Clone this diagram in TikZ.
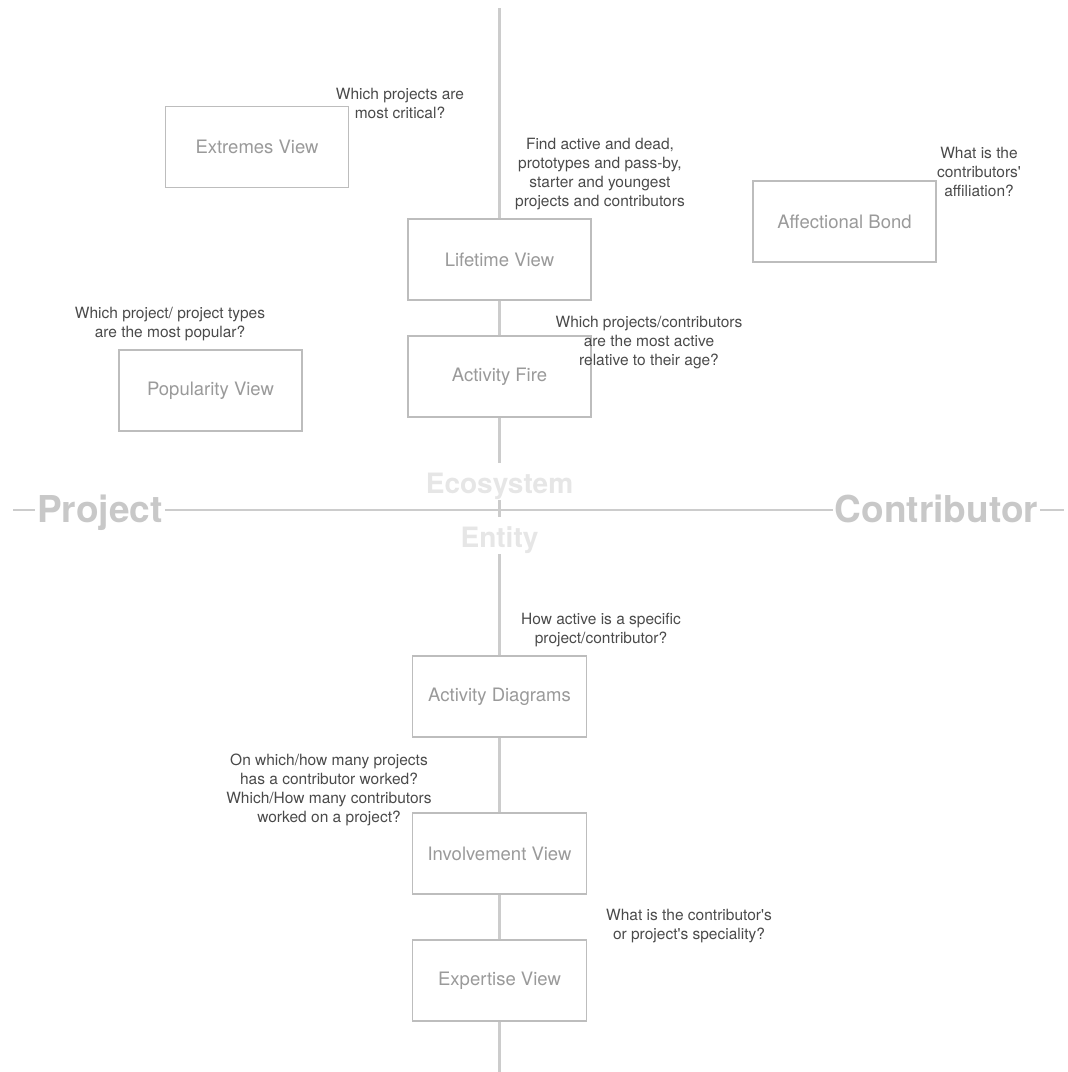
\documentclass[tikz,border=0pt]{standalone}
\usepackage{fontspec}
\setmainfont{TeX Gyre Heros}
\definecolor{axisgray}{HTML}{CCCCCC}
\definecolor{boxgray}{HTML}{BDBDBD}
\definecolor{labelgray}{HTML}{9A9A9A}
\definecolor{qgray}{HTML}{4A4A4A}
\definecolor{dimgray}{HTML}{C8C8C8}
\definecolor{ecogray}{HTML}{E6E6E6}
\begin{document}
\begin{tikzpicture}[x=1pt,y=-1pt,
  axisline/.style={draw=axisgray, line width=3pt},
  haxisline/.style={draw=axisgray, line width=2.8pt},
  viewbox/.style={draw=boxgray, line width=1.5pt, fill=white, text=labelgray,
    font=\fontsize{18.5}{22}\selectfont, minimum width=183pt, minimum height=81pt, inner sep=0pt},
  narrowbox/.style={viewbox, minimum width=174pt},
  question/.style={text=qgray, font=\fontsize{15.5}{19}\selectfont, align=center, inner sep=0pt},
  dimlabel/.style={text=dimgray, font=\bfseries\fontsize{37}{40}\selectfont, fill=white,
    inner xsep=2pt, inner ysep=0pt, anchor=base},
  scopelabel/.style={text=ecogray, font=\bfseries\fontsize{28}{32}\selectfont, fill=white,
    inner sep=0pt, text height=30pt, text depth=7pt, anchor=base}
]
\useasboundingbox (0,0) rectangle (1068,1072);

% axis end points
\coordinate (axtop) at (499.5,8);
\coordinate (axbot) at (499.5,1072);
\coordinate (axleft) at (13,510);
\coordinate (axright) at (1064,510);

% axis labels
\node[dimlabel] (project) at (100,522) {Project};
\node[dimlabel] (contrib) at (936.5,522) {Contributor};
\node[scopelabel] (eco) at (499.5,493) {Ecosystem};
\node[scopelabel] (entity) at (499.5,547) {Entity};

% view boxes
\node[viewbox] (extremes) at (257,147) {Extremes View};
\node[viewbox] (lifetime) at (499.5,259.5) {Lifetime View};
\node[viewbox] (fire) at (499.5,376.5) {Activity Fire};
\node[viewbox] (popularity) at (210.5,390.5) {Popularity View};
\node[viewbox] (bond) at (844.5,221.5) {Affectional Bond};
\node[narrowbox] (actdiag) at (499.5,696.5) {Activity Diagrams};
\node[narrowbox] (involve) at (499.5,853.5) {Involvement View};
\node[narrowbox] (expert) at (499.5,980.5) {Expertise View};

% axes drawn between nodes
\draw[axisline] (axtop) -- (lifetime);
\draw[axisline] (lifetime) -- (fire);
\draw[axisline] (fire) -- (eco);
\draw[axisline] (eco) -- (entity);
\draw[axisline] (entity) -- (actdiag);
\draw[axisline] (actdiag) -- (involve);
\draw[axisline] (involve) -- (expert);
\draw[axisline] (expert) -- (axbot);
\draw[haxisline] (axleft) -- (project.west |- axleft);
\draw[haxisline] (project.east |- axleft) -- (contrib.west |- axleft);
\draw[haxisline] (contrib.east |- axleft) -- (axright);

% questions
\node[question] (qext) at (400,103) {Which projects are\\most critical?};
\node[question] (qlife) at (600,174) {Find active and dead,\\prototypes and pass-by,\\starter and youngest\\projects and contributors};
\node[question] (qbond) at (979,172) {What is the\\contributors\textquotesingle\\affiliation?};
\node[question] (qpop) at (170,324) {Which project/ project types\\are the most popular?};
\node[question] (qfire) at (649,343) {Which projects/contributors\\are the most active\\relative to their age?};
\node[question] (qact) at (601,630) {How active is a specific\\project/contributor?};
\node[question] (qinv) at (329,790) {On which/how many projects\\has a contributor worked?\\Which/How many contributors\\worked on a project?};
\node[question] (qexp) at (689,926) {What is the contributor\textquotesingle s\\or project\textquotesingle s speciality?};
\end{tikzpicture}
\end{document}
